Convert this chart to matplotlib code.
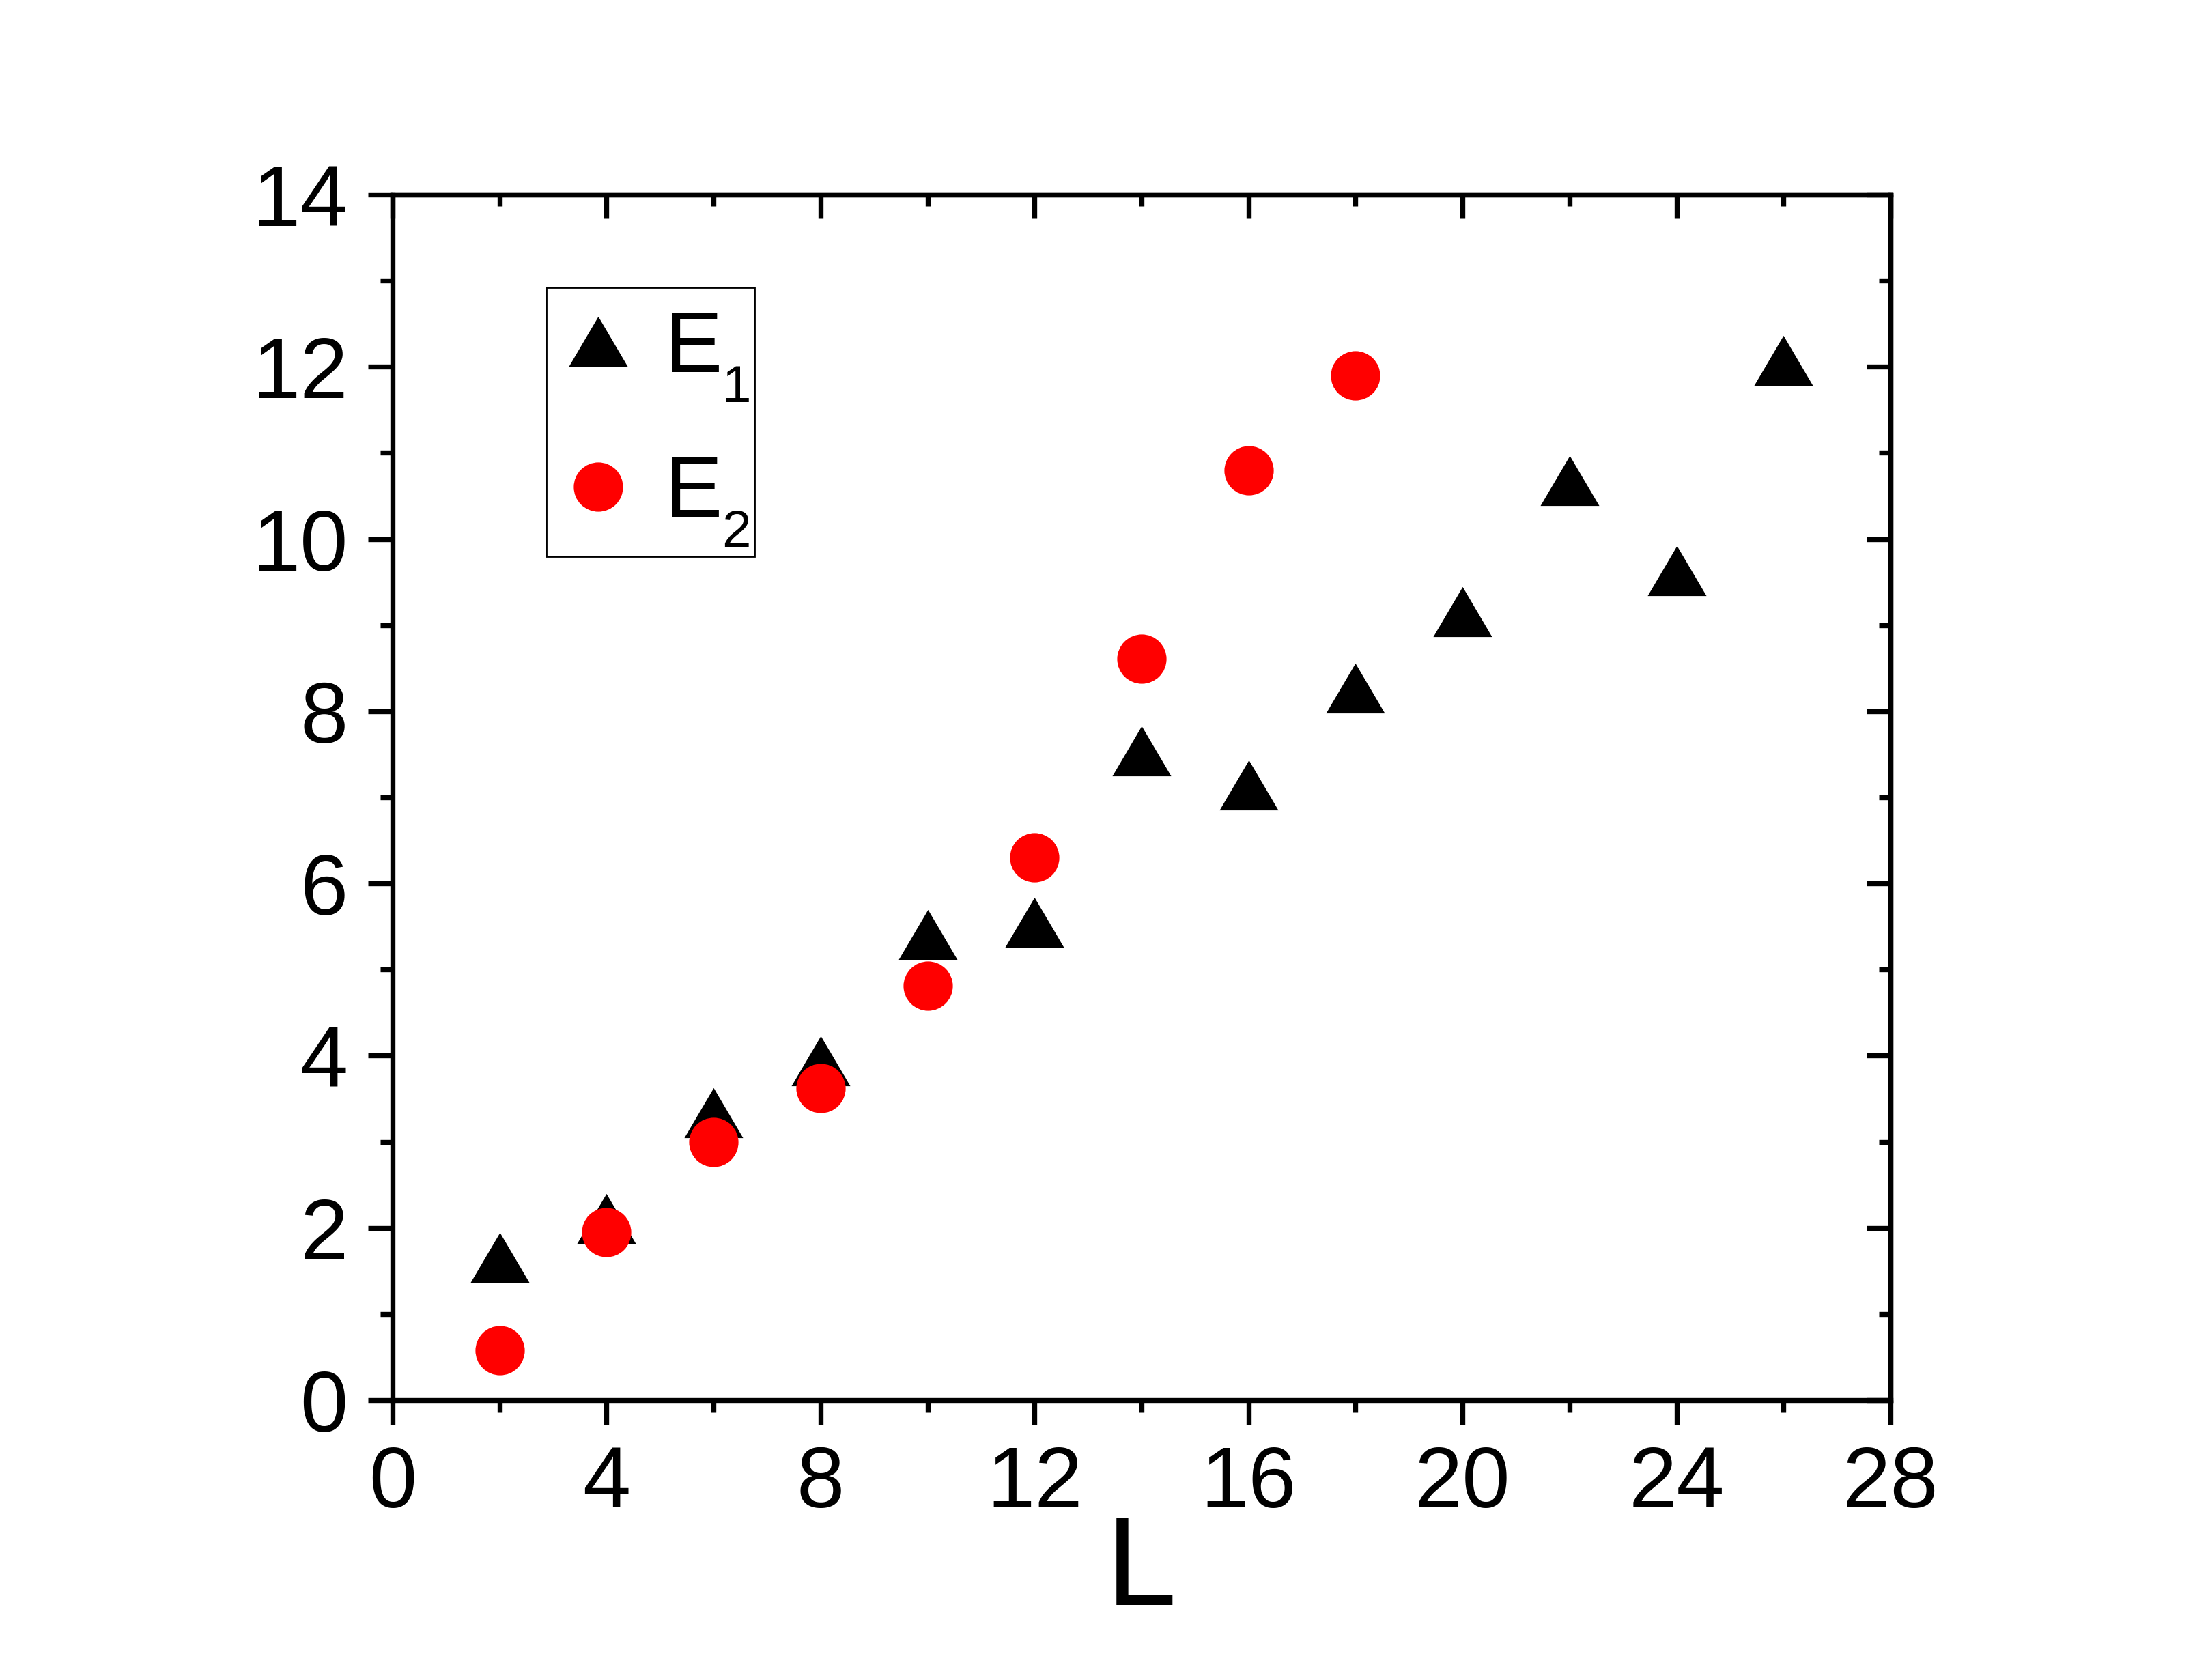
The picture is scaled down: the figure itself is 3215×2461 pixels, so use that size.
import matplotlib
matplotlib.use("Agg")
import matplotlib.pyplot as plt
from matplotlib.ticker import MultipleLocator, NullFormatter

plt.rcParams['font.family'] = ['Liberation Sans', 'DejaVu Sans']

# data
L1 = [2, 4, 6, 8, 10, 12, 14, 16, 18, 20, 22, 24, 26]
E1 = [1.66, 2.11, 3.34, 3.94, 5.41, 5.55, 7.54, 7.14, 8.27, 9.16, 10.68, 9.63, 12.07]
L2 = [2, 4, 6, 8, 10, 12, 14, 16, 18]
E2 = [0.58, 1.95, 3.00, 3.62, 4.81, 6.30, 8.61, 10.80, 11.90]
labels = ['E', 'E']
subs = ['1', '2']

# equilateral-ish triangle marker (Origin style)
tri = [(0, 0.85), (-1, -0.85), (1, -0.85), (0, 0.85)]

fig = plt.figure(figsize=(32.16, 24.61), dpi=100)
ax = fig.add_axes([0.1788, 0.1666, 0.6822, 0.7176])

ax.plot(L1, E1, ls='none', marker=tri, ms=62, mew=0, color='black', label=labels[0])
ax.plot(L2, E2, ls='none', marker='o', ms=52, mew=0, color='red', label=labels[1])

ax.set_xlim(0, 28)
ax.set_ylim(0, 14)
ax.xaxis.set_major_locator(MultipleLocator(4))
ax.xaxis.set_minor_locator(MultipleLocator(2))
ax.yaxis.set_major_locator(MultipleLocator(2))
ax.yaxis.set_minor_locator(MultipleLocator(1))

lw = 5.3
ax.tick_params(which='both', direction='out', width=lw, labelsize=91,
               top=False, right=False)
ax.tick_params(which='major', length=26, pad=21)
ax.tick_params(which='minor', length=13)
for s in ax.spines.values():
    s.set_linewidth(lw)

# top and right ticks point inwards
top = ax.secondary_xaxis('top')
top.xaxis.set_major_locator(MultipleLocator(4))
top.xaxis.set_minor_locator(MultipleLocator(2))
top.xaxis.set_major_formatter(NullFormatter())
top.tick_params(which='both', direction='in', width=lw, labeltop=False)
top.tick_params(which='major', length=25)
top.tick_params(which='minor', length=12)
top.spines['top'].set_linewidth(lw)

right = ax.secondary_yaxis('right')
right.yaxis.set_major_locator(MultipleLocator(2))
right.yaxis.set_minor_locator(MultipleLocator(1))
right.yaxis.set_major_formatter(NullFormatter())
right.tick_params(which='both', direction='in', width=lw, labelright=False)
right.tick_params(which='major', length=25)
right.tick_params(which='minor', length=12)
right.spines['right'].set_linewidth(lw)

ax.set_xlabel('L', fontsize=134)
ax.xaxis.set_label_coords(0.5, -0.0934)

leg = ax.legend(loc='upper left', bbox_to_anchor=(0.1026, 0.699, 0.139, 0.224),
                mode='expand', borderaxespad=0,
                fontsize=91, fancybox=False, edgecolor='black', framealpha=1,
                borderpad=0.25, handlelength=0.7, handletextpad=0.42,
                labelspacing=0.75, numpoints=1)
leg.get_frame().set_linewidth(2)

for txt, sub in zip(leg.get_texts(), subs):
    ax.annotate(sub, xy=(1, 0), xycoords=txt, xytext=(0, -13),
                textcoords='offset points', fontsize=55, va='baseline',
                ha='left', zorder=6)

fig.savefig('out.png', dpi=100)
